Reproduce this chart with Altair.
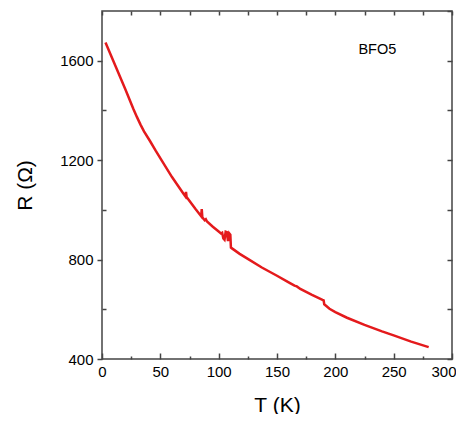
import altair as alt
import pandas as pd

# ---- data ----
T = [3, 10, 20, 27, 30, 33, 36, 41, 46, 51, 60, 70, 71.5, 72, 72.5, 80, 85, 85.5, 86, 88, 89,
     90, 95, 100, 102, 103, 104, 105, 106, 107, 108, 109, 110, 110.5, 112, 118, 125, 137,
     150, 160, 165, 167, 170, 180, 189, 190, 190.5, 192, 195, 200, 210, 225, 240, 250, 265,
     280]
R = [1673, 1596, 1485, 1405, 1373, 1343, 1316, 1278, 1238, 1200, 1132, 1064, 1054, 1072,
     1052, 1004, 974, 1003, 970, 958, 962, 953, 932, 913, 905, 908, 885, 880, 912, 910, 874,
     906, 900, 848, 843, 823, 803, 768, 735, 708, 695, 692, 682, 658, 638, 636, 620, 614,
     602, 589, 566, 537, 511, 495, 470, 448]

x_major = [0, 50, 100, 150, 200, 250, 300]
x_minor = [25, 75, 125, 175, 225, 275]
x_top = [0, 25, 50, 75, 100, 125, 150, 175, 200, 225, 250, 275, 300]
y_major = [400, 800, 1200, 1600]
y_minor = [600, 1000, 1400]
y_right = [400, 600, 800, 1000, 1200, 1400, 1600, 1800]

note_T = [236]
note_R = [1642]
note_text = ["BFO5"]

RED = "#e41a1c"
FONT = "Liberation Sans"
TICK = "#444444"

df = pd.DataFrame({"T": T, "R": R, "i": list(range(len(T)))})
notes = pd.DataFrame({"T": note_T, "R": note_R, "text": note_text})

xs = alt.Scale(domain=[0, 300], nice=False, zero=False)
ys = alt.Scale(domain=[400, 1800], nice=False, zero=False)

main = alt.Chart(df).mark_line(color=RED, strokeWidth=2.5).encode(
    x=alt.X("T:Q", scale=xs, axis=alt.Axis(
        orient="bottom", values=x_major, title="T (K)", offset=-6, tickSize=6,
        domain=False, labelPadding=5, titlePadding=15, titleFontSize=21,
        labelFontSize=15, labelFlush=False, labelOverlap=False, format="d",
        labelAlign={"condition": {"test": "datum.value == 300", "value": "right"},
                    "value": "center"},
        labelOffset={"condition": {"test": "datum.value == 300", "value": 4},
                     "value": 0})),
    y=alt.Y("R:Q", scale=ys, axis=alt.Axis(
        orient="left", values=y_major, title="R (Ω)", tickSize=5,
        domain=False, labelPadding=4, titlePadding=24, titleFontSize=21,
        labelFontSize=15, labelFlush=False, labelOverlap=False, format="d")),
    order="i:Q",
)

minor = alt.Chart(df).mark_line(strokeOpacity=0).encode(
    x=alt.X("T:Q", scale=xs, axis=alt.Axis(
        orient="bottom", values=x_minor, title=None, offset=-3, tickSize=3,
        domain=False, labels=False)),
    y=alt.Y("R:Q", scale=ys, axis=alt.Axis(
        orient="left", values=y_minor, title=None, offset=-4, tickSize=4,
        domain=False, labels=False)),
    order="i:Q",
)

mirror = alt.Chart(df).mark_line(strokeOpacity=0).encode(
    x=alt.X("T:Q", scale=xs, axis=alt.Axis(
        orient="top", values=x_top, title=None, offset=-4, tickSize=4,
        domain=False, labels=False)),
    y=alt.Y("R:Q", scale=ys, axis=alt.Axis(
        orient="right", values=y_right, title=None, offset=-5, tickSize=5,
        domain=False, labels=False)),
    order="i:Q",
)

label = alt.Chart(notes).mark_text(
    font=FONT, fontSize=14.5, color="black", align="center", baseline="middle"
).encode(
    x=alt.X("T:Q", scale=xs, axis=None),
    y=alt.Y("R:Q", scale=ys, axis=None),
    text="text:N",
)

chart = alt.layer(main, minor, mirror, label).resolve_axis(
    x="independent", y="independent"
).properties(
    width=350, height=348,
    padding={"left": 94, "top": 3, "right": 4, "bottom": 55},
    autosize=alt.AutoSizeParams(type="none"),
).configure_view(
    stroke=TICK, strokeWidth=1.5
).configure_axis(
    grid=False, tickColor=TICK, tickWidth=1.5,
    labelFont=FONT, labelColor="black", titleFont=FONT, titleColor="black",
    titleFontWeight="normal",
)

chart.save("out.html", embed_options={"renderer": "svg", "actions": False})
